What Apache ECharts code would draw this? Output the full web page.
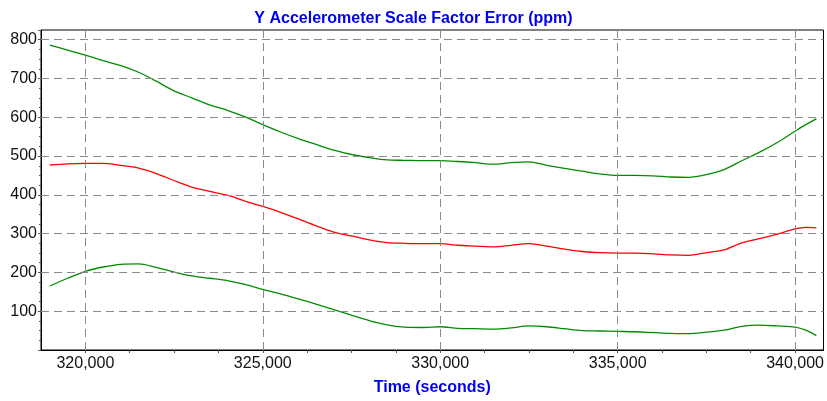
<!DOCTYPE html>
<html>
<head>
<meta charset="utf-8">
<script src="https://cdn.jsdelivr.net/npm/echarts@6/dist/echarts.min.js"></script>
<style>html,body{margin:0;padding:0;background:#fff}#c{width:827px;height:401px}</style>
</head>
<body>
<div id="c"></div>
<script>
var times = [319000,319500,320000,320500,321000,321500,322000,322500,323000,323500,324000,324500,325000,325500,326000,326500,327000,327500,328000,328500,329000,329500,330000,330500,331000,331500,332000,332500,333000,333500,334000,334500,335000,335500,336000,336500,337000,337500,338000,338500,339000,339500,340000,340300,340600];
var upperBound = [786,773,760,746,733,716,693,668,650,632,618,601,581,562,545,530,515,504,496,490,489,488,488,486,483,479,483,485,476,468,461,454,450,450,449,446,445,452,465,488,510,535,564,581,596];
var estimate = [477,480,481,481,476,469,455,437,420,409,399,384,370,355,338,320,304,294,284,277,275,274,274,270,268,266,270,274,268,260,254,251,250,250,248,245,244,251,258,276,287,299,312,316,315];
var lowerBound = [165,185,203,214,221,222,213,201,191,185,179,169,156,145,132,118,104,90,76,65,59,58,60,56,55,54,57,62,60,55,50,49,48,47,45,43,42,46,51,61,64,62,59,51,37];
var xGridTicks = [320000,325000,330000,335000,340000];
var yGridTicks = [100,200,300,400,500,600,700,800];
var titleText = 'Y Accelerometer Scale Factor Error (ppm)';
var xAxisTitle = 'Time (seconds)';

function pairs(v){ return times.map(function(t,i){ return [t, v[i]]; }); }
var gridLineStyle = {color:'#8a8a8a', type:[8,5], width:1};
var markData = xGridTicks.map(function(x){return {xAxis:x};}).concat(yGridTicks.map(function(y){return {yAxis:y};}));
var FONT = 'Liberation Sans, Arial, sans-serif';

var chart = echarts.init(document.getElementById('c'), null, {renderer:'canvas'});
chart.setOption({
  animation:false,
  backgroundColor:'#fff',
  title:{text:titleText,left:'center',top:6,textStyle:{color:'#0000f0',fontFamily:FONT,fontWeight:'bold',fontSize:16}},
  grid:{left:41,right:1,top:30,bottom:49,show:true,borderColor:'#000',borderWidth:1,backgroundColor:'transparent'},
  xAxis:{
    type:'value',min:318750,max:340800,interval:1250,
    name:xAxisTitle,nameLocation:'middle',nameGap:30,
    nameTextStyle:{color:'#0000f0',fontFamily:FONT,fontWeight:'bold',fontSize:16},
    axisLine:{show:true,lineStyle:{color:'#000',width:1}},
    axisTick:{show:true,length:3,lineStyle:{color:'#555'}},
    splitLine:{show:false},
    axisLabel:{color:'#111',fontFamily:FONT,fontSize:16,margin:6,showMaxLabel:false,showMinLabel:false,
      formatter:function(v){ return (v%5000===0)? v.toLocaleString('en-US') : ''; }}
  },
  yAxis:{
    type:'value',min:0,max:825,interval:100,
    axisLine:{show:true,lineStyle:{color:'#000',width:1}},
    axisTick:{show:true,length:3,lineStyle:{color:'#555'}},
    minorTick:{show:true,splitNumber:4,length:2,lineStyle:{color:'#555'}},
    splitLine:{show:false},
    axisLabel:{color:'#111',fontFamily:FONT,fontSize:16,margin:4,
      formatter:function(v){ return (v%100===0 && v>0 && v<=800)? String(v) : ''; }}
  },
  series:[
    {type:'line',data:pairs(upperBound),showSymbol:false,smooth:0.3,lineStyle:{color:'#008c00',width:1.3},itemStyle:{color:'#008c00'},z:3,
     markLine:{silent:true,symbol:'none',label:{show:false},lineStyle:gridLineStyle,data:markData,animation:false}},
    {type:'line',data:pairs(estimate),showSymbol:false,smooth:0.3,lineStyle:{color:'#ff0000',width:1.3},itemStyle:{color:'#ff0000'},z:3},
    {type:'line',data:pairs(lowerBound),showSymbol:false,smooth:0.3,lineStyle:{color:'#008c00',width:1.3},itemStyle:{color:'#008c00'},z:3}
  ]
});
</script>
</body>
</html>
